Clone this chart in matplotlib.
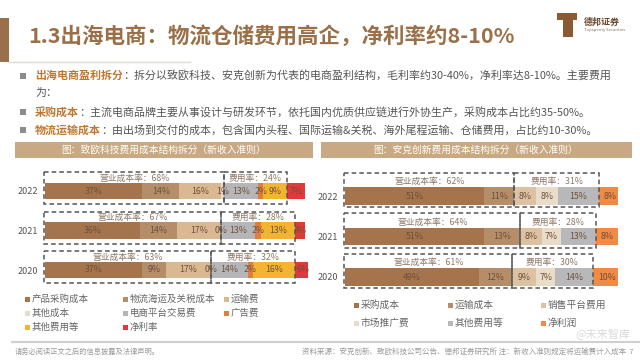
import matplotlib
matplotlib.use('Agg')
import matplotlib.pyplot as plt
from matplotlib.patches import Rectangle

plt.rcParams['font.family'] = ['Noto Sans CJK SC', 'DejaVu Sans']

# ---------------- data ----------------
years = ['2022', '2021', '2020']

# 致欧科技 (%)
zo_names = ['产品采购成本', '物流海运及关税成本', '运输费', '其他成本',
            '电商平台交易费', '广告费', '其他费用等', '净利率']
zo_purchase = [37, 36, 37]
zo_logistics = [14, 14, 9]
zo_transport = [16, 17, 17]
zo_other_cost = [1, 0, 0]
zo_platform = [13, 13, 14]
zo_ads = [2, 2, 2]
zo_other_fee = [9, 13, 16]
zo_net = [7, 4, 6]
zo_cost_rate = [68, 67, 63]
zo_fee_rate = [24, 28, 32]

# 安克创新 (%)
ak_names = ['采购成本', '运输成本', '销售平台费用', '市场推广费', '其他费用等', '净利润']
ak_purchase = [51, 51, 49]
ak_transport = [11, 13, 12]
ak_platform = [8, 8, 9]
ak_marketing = [8, 7, 7]
ak_other = [15, 13, 14]
ak_net = [8, 8, 10]
ak_cost_rate = [62, 64, 61]
ak_fee_rate = [31, 28, 30]

zo_colors = ['#a5744c', '#b58d69', '#d9b892', '#e7dac8', '#b6b6b9', '#e27d3e', '#f3b531', '#e0393b']
ak_colors = ['#a5744c', '#b58d69', '#dcc2a2', '#e9dcc8', '#b8b8bb', '#f08a45']

BROWN = '#9a7048'
W, H = 640, 360
fig = plt.figure(figsize=(6.4, 3.6), dpi=100)
ax0 = fig.add_axes([0, 0, 1, 1], zorder=0)
ax0.set_xlim(0, W)
ax0.set_ylim(H, 0)
ax0.axis('off')

# ---------------- header ----------------
ax0.add_patch(Rectangle((0, 18), 9, 44, color=BROWN, lw=0))
ax0.plot([9, 190], [62, 62], color='#e3d9cf', lw=1)
ax0.text(28, 36, '1.3出海电商：物流仓储费用高企，净利率约8-10%', fontsize=15.5,
         fontweight='bold', color=BROWN, va='center', ha='left')
# logo
ax0.add_patch(Rectangle((557, 13), 20, 7, color='#8a5a34', lw=0))
ax0.add_patch(Rectangle((563, 13), 10, 24, color='#8a5a34', lw=0))
ax0.text(584, 22, '德邦证券', fontsize=6.5, fontweight='bold', color='#6b4a30', va='center')
ax0.text(584, 30, 'Topsperity Securities', fontsize=3, color='#8a7060', va='center')

# ---------------- bullets ----------------
bullets = [
    ('出海电商盈利拆分', '：拆分以致欧科技、安克创新为代表的电商盈利结构，毛利率约30-40%，净利率达8-10%。主要费用', 76),
    ('采购成本', '：主流电商品牌主要从事设计与研发环节，依托国内优质供应链进行外协生产，采购成本占比约35-50%。', 112),
    ('物流运输成本', '：由出场到交付的成本，包含国内头程、国际运输&关税、海外尾程运输、仓储费用，占比约10-30%。', 130),
]
for key, rest, y in bullets:
    ax0.add_patch(Rectangle((20, y - 3), 5.5, 5.5, color='#8c8c8c', lw=0))
    t = ax0.text(35, y, key, fontsize=7.9, color='#c0762e', va='center', ha='left', fontweight='bold')
    ax0.annotate(rest, xy=(1, 0.5), xycoords=t, fontsize=7.9, color='#555555', va='center', ha='left')
ax0.text(35, 93, '为：', fontsize=7.9, color='#555555', va='center', ha='left')

# ---------------- banners ----------------
ax0.add_patch(Rectangle((15, 142), 298, 15.5, color='#c9a983', lw=0))
ax0.text(164, 150, '图：致欧科技费用成本结构拆分（新收入准则）', fontsize=7, color='white',
         ha='center', va='center')
ax0.add_patch(Rectangle((321, 142), 311, 15.5, color='#c9a983', lw=0))
ax0.text(476, 150, '图：安克创新费用成本结构拆分（新收入准则）', fontsize=7, color='white',
         ha='center', va='center')


def stacked_chart(rect, series, colors, n_cost, cost_rate, fee_rate, box_top, box_bot, lab_y):
    ax = fig.add_axes(rect, zorder=2)
    ax.set_xlim(0, 100)
    ax.set_ylim(2.9, -0.9)
    ax.patch.set_alpha(0)
    for s in ax.spines.values():
        s.set_visible(False)
    ax.set_xticks([])
    ax.set_yticks(range(len(years)))
    ax.set_yticklabels(years, fontsize=6.5, color='#555555')
    ax.tick_params(axis='y', length=0, pad=5)
    for i in range(len(years)):
        left = 0
        bounds = [0]
        for vals, c in zip(series, colors):
            v = vals[i]
            ax.barh(i, v, left=left, height=0.42, color=c, lw=0)
            ax.text(left + v / 2, i, f'{v}%', ha='center', va='center', fontsize=6.3,
                    color='#6e5038')
            left += v
            bounds.append(left)
        c_end = bounds[n_cost]
        f_end = bounds[n_cost + 3]
        h = box_bot - box_top
        ax.add_patch(Rectangle((-0.5, i + box_top), c_end + 0.5, h, fill=False, ls=(0, (3, 2)),
                               lw=1.1, ec='#555555', clip_on=False))
        ax.add_patch(Rectangle((c_end, i + box_top), f_end - c_end, h, fill=False, ls=(0, (3, 2)),
                               lw=1.1, ec='#555555', clip_on=False))
        ax.text(c_end / 2, i + lab_y, f'营业成本率：{cost_rate[i]}%', ha='center', va='center',
                fontsize=6.3, color='#8c7866')
        ax.text((c_end + f_end) / 2, i + lab_y, f'费用率：{fee_rate[i]}%', ha='center', va='center',
                fontsize=6.3, color='#8c7866')
    return ax


# left chart: x 45..308 px, centers 191..270 px
top_px, bot_px = 191 - 0.9 * 39.5, 270 + 0.9 * 39.5
stacked_chart([45 / W, 1 - bot_px / H, 263 / W, (bot_px - top_px) / H],
              [zo_purchase, zo_logistics, zo_transport, zo_other_cost,
               zo_platform, zo_ads, zo_other_fee, zo_net],
              zo_colors, 4, zo_cost_rate, zo_fee_rate, -0.48, 0.33, -0.33)

# right chart: x 345..618 px, centers 196..277 px
top_px, bot_px = 196 - 0.9 * 40.5, 277 + 0.9 * 40.5
stacked_chart([345 / W, 1 - bot_px / H, 273 / W, (bot_px - top_px) / H],
              [ak_purchase, ak_transport, ak_platform, ak_marketing, ak_other, ak_net],
              ak_colors, 2, ak_cost_rate, ak_fee_rate, -0.57, 0.28, -0.36)

# ---------------- legends ----------------
def legend(names, colors, xs, ys, fs):
    for k, (nm, c) in enumerate(zip(names, colors)):
        x = xs[k % 3]
        y = ys[k // 3]
        ax0.add_patch(Rectangle((x, y - 2.5), 5, 5, color=c, lw=0))
        ax0.text(x + 6.5, y, nm, fontsize=fs, color='#666666', va='center', ha='left')

legend(zo_names, zo_colors, [25, 123, 224], [299, 313, 327], 6.8)
legend(ak_names, ak_colors, [354, 448, 541], [305, 323], 7.0)

# ---------------- footer ----------------
ax0.plot([12, 640], [342, 342], color='#cfcfcf', lw=1.5)
ax0.text(15, 352, '请务必阅读正文之后的信息披露及法律声明。', fontsize=5.2, color='#999999',
         va='center', ha='left')
ax0.text(634, 352, '资料来源：安克创新、致欧科技公司公告、德邦证券研究所 注：新收入准则规定将运输费计入成本  7',
         fontsize=5.4, color='#999999', va='center', ha='right')
ax0.text(603, 334, '@未来智库', fontsize=8, color='#dadada', va='center', ha='center')

fig.savefig('out.png', dpi=100)
